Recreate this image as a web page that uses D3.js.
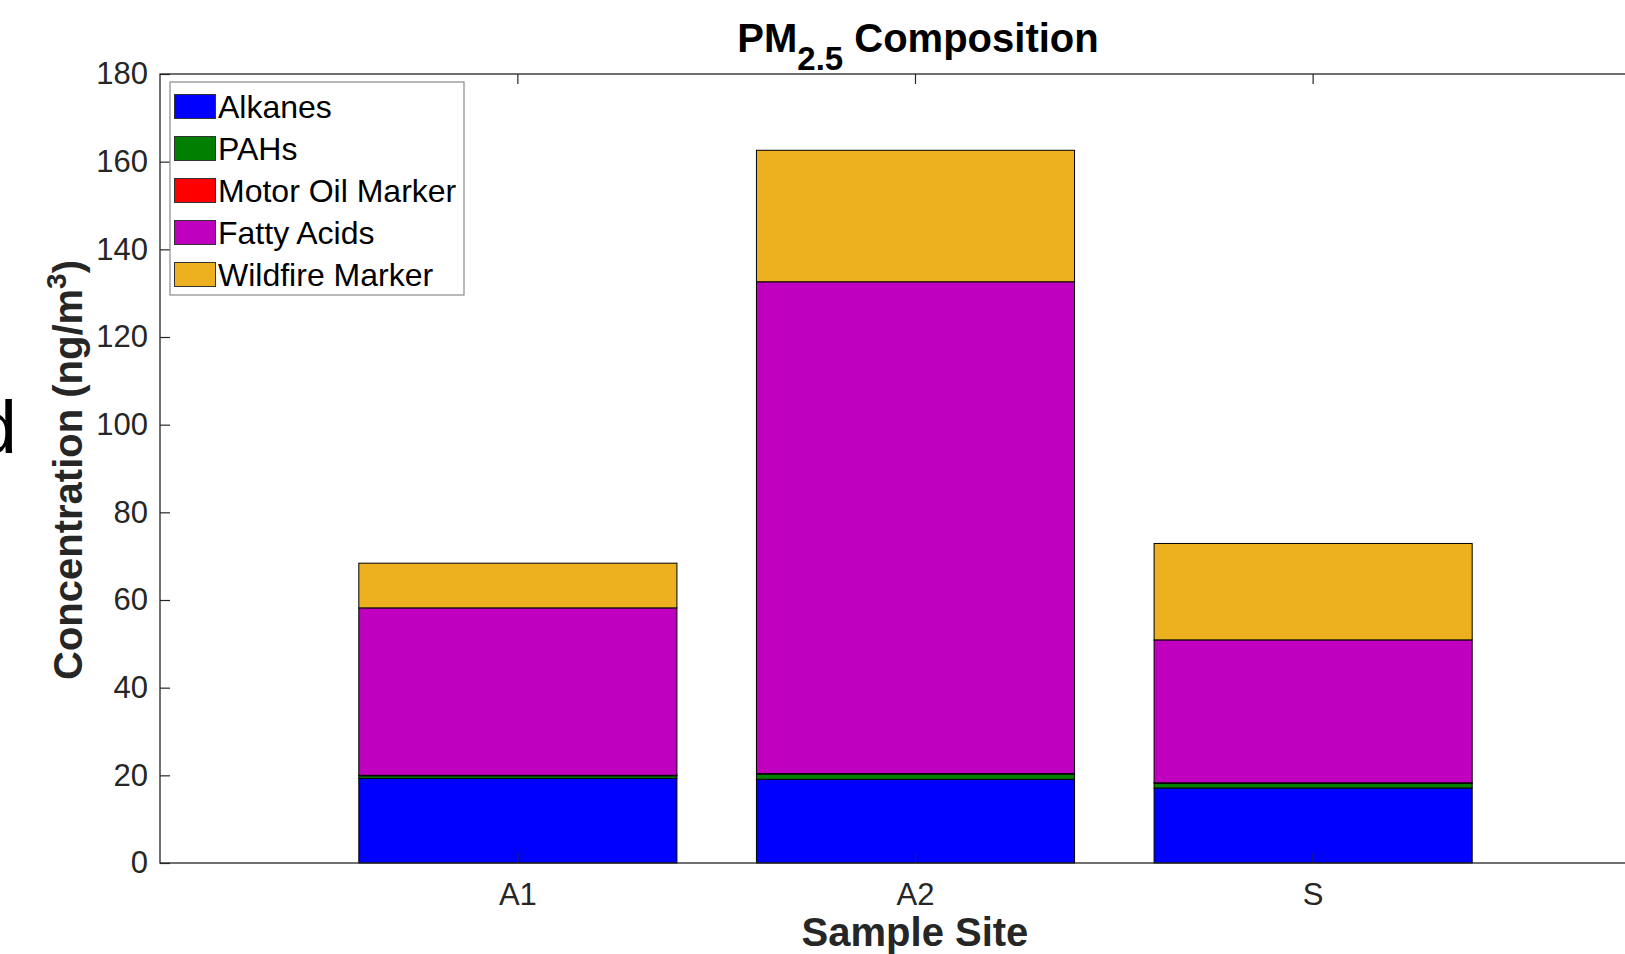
<!DOCTYPE html>
<html>
<head>
<meta charset="utf-8">
<script src="https://cdn.jsdelivr.net/npm/d3@7"></script>
<style>
  html, body { margin: 0; padding: 0; background: #fff; overflow: hidden; }
  svg { display: block; font-family: "Liberation Sans", Arial, Helvetica, sans-serif; }
</style>
</head>
<body>
<svg id="chart" width="1625" height="954"></svg>
<script>
// ---- data ----
const sites = ["A1", "A2", "S"];
const seriesNames = ["Alkanes", "PAHs", "Motor Oil Marker", "Fatty Acids", "Wildfire Marker"];
const alkanes    = [19.3, 19.1, 17.1];
const pahs       = [0.6, 1.2, 1.1];
const motorOil   = [0.1, 0.1, 0.1];
const fattyAcids = [38.2, 112.2, 32.6];
const wildfire   = [10.2, 30.0, 22.0];
const yTicks = [0, 20, 40, 60, 80, 100, 120, 140, 160, 180];
const seriesColors = ["#0000ff", "#007f00", "#ff0000", "#bf00bf", "#edb120"];

const seriesValues = [alkanes, pahs, motorOil, fattyAcids, wildfire];
const table = sites.map((s, i) => {
  const row = { site: s };
  seriesNames.forEach((n, k) => row[n] = seriesValues[k][i]);
  return row;
});

const svg = d3.select("#chart");
const L = 160, R = 1671, T = 74, B = 863;
const axisColor = "#262626";

const x = d3.scaleBand().domain(sites).range([L, R]).paddingInner(0.2).paddingOuter(0.5);
const y = d3.scaleLinear().domain([0, 180]).range([B, T]);
const color = d3.scaleOrdinal().domain(seriesNames).range(seriesColors);

const stacked = d3.stack().keys(seriesNames)(table);

// bars
svg.append("g").selectAll("g").data(stacked).join("g")
  .attr("fill", d => color(d.key))
  .selectAll("rect").data(d => d).join("rect")
  .attr("x", d => x(d.data.site))
  .attr("width", x.bandwidth())
  .attr("y", d => y(d[1]))
  .attr("height", d => y(d[0]) - y(d[1]))
  .attr("stroke", "#000")
  .attr("stroke-width", 1);

// axes
const yAxis = svg.append("g").attr("transform", `translate(${L},0)`)
  .call(d3.axisLeft(y).tickValues(yTicks).tickSize(-10).tickPadding(12));
const xAxis = svg.append("g").attr("transform", `translate(0,${B})`)
  .call(d3.axisBottom(x).tickSize(-10).tickPadding(20));
const xTop = svg.append("g").attr("transform", `translate(0,${T})`)
  .call(d3.axisTop(x).tickSize(-10).tickFormat(""));
[yAxis, xAxis, xTop].forEach(g => {
  g.select(".domain").remove();
  g.selectAll(".tick line").attr("stroke", axisColor).attr("stroke-width", 1.2);
  g.selectAll(".tick text").attr("fill", axisColor).attr("font-size", 31)
    .attr("font-family", "Liberation Sans, Arial, sans-serif");
});

// axes box
svg.append("rect")
  .attr("x", L).attr("y", T).attr("width", R - L).attr("height", B - T)
  .attr("fill", "none").attr("stroke", axisColor).attr("stroke-width", 1.3);

// title
const title = svg.append("text")
  .attr("x", 918).attr("y", 52)
  .attr("text-anchor", "middle")
  .attr("font-size", 40).attr("font-weight", "bold").attr("fill", "#000");
title.append("tspan").text("PM");
title.append("tspan").attr("dy", 18).attr("font-size", 33).text("2.5");
title.append("tspan").attr("dy", -18).text(" Composition");

// x label
svg.append("text")
  .attr("x", 915).attr("y", 946)
  .attr("text-anchor", "middle")
  .attr("font-size", 40).attr("font-weight", "bold").attr("fill", axisColor)
  .text("Sample Site");

// y label
const yl = svg.append("text")
  .attr("transform", "translate(82,470) rotate(-90)")
  .attr("text-anchor", "middle")
  .attr("font-size", 40).attr("font-weight", "bold").attr("fill", axisColor);
yl.append("tspan").text("Concentration (ng/m");
yl.append("tspan").attr("dy", -16).attr("font-size", 28).text("3");
yl.append("tspan").attr("dy", 16).text(")");

// panel letter (cropped at left edge)
svg.append("text")
  .attr("x", 17).attr("y", 453)
  .attr("text-anchor", "end")
  .attr("font-size", 75).attr("fill", "#000")
  .text("d");

// legend
const lg = svg.append("g");
lg.append("rect")
  .attr("x", 170).attr("y", 82).attr("width", 294).attr("height", 213)
  .attr("fill", "#fff").attr("stroke", "#8a8a8a").attr("stroke-width", 1.2);
const items = lg.selectAll("g.item").data(seriesNames).join("g")
  .attr("class", "item")
  .attr("transform", (d, i) => `translate(0,${106.5 + i * 42})`);
items.append("rect")
  .attr("x", 174.5).attr("y", -12).attr("width", 41).attr("height", 24)
  .attr("fill", d => color(d)).attr("stroke", "#333").attr("stroke-width", 1);
items.append("text")
  .attr("x", 218).attr("y", 11)
  .attr("font-size", 32).attr("fill", "#000")
  .text(d => d);
</script>
</body>
</html>
